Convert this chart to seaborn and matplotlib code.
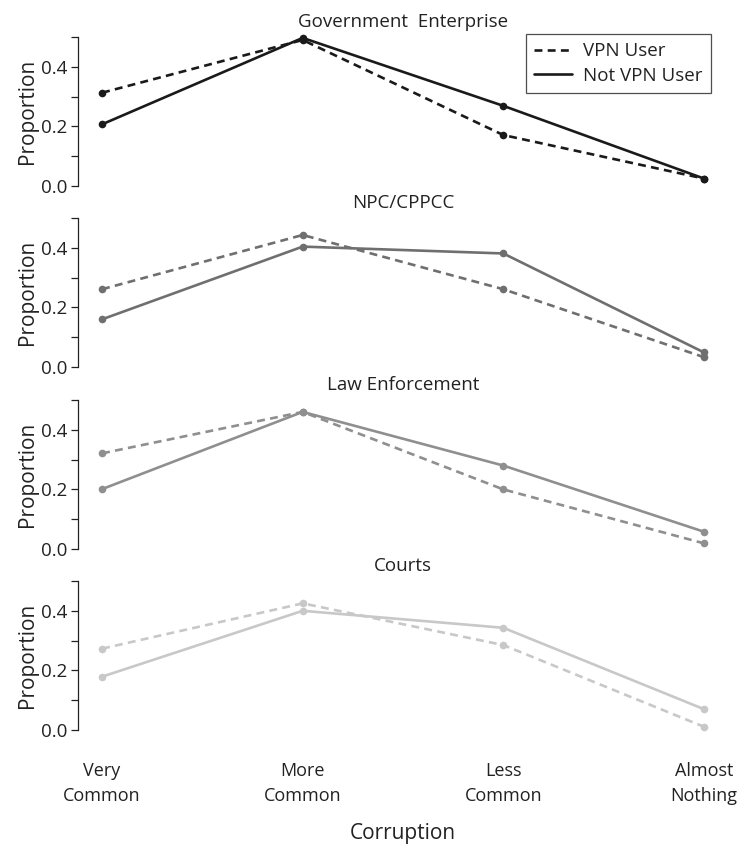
import matplotlib
matplotlib.use("Agg")
import matplotlib.pyplot as plt
import seaborn as sns
import pandas as pd
from matplotlib.lines import Line2D

sns.set_theme(style="white")
plt.rcParams['font.family'] = ['Open Sans', 'DejaVu Sans']

categories = ["Very\nCommon", "More\nCommon", "Less\nCommon", "Almost\nNothing"]
panels = ["Government  Enterprise", "NPC/CPPCC", "Law Enforcement", "Courts"]
groups = ["VPN User", "Not VPN User"]

gov_vpn = [0.313, 0.490, 0.171, 0.025]
gov_not = [0.207, 0.497, 0.269, 0.025]
npc_vpn = [0.261, 0.443, 0.261, 0.033]
npc_not = [0.160, 0.404, 0.381, 0.049]
law_vpn = [0.321, 0.460, 0.200, 0.019]
law_not = [0.201, 0.460, 0.280, 0.058]
court_vpn = [0.273, 0.425, 0.285, 0.011]
court_not = [0.179, 0.400, 0.343, 0.070]

panel_values = {
    panels[0]: (gov_vpn, gov_not),
    panels[1]: (npc_vpn, npc_not),
    panels[2]: (law_vpn, law_not),
    panels[3]: (court_vpn, court_not),
}
panel_colors = ["#1a1a1a", "#6f6f6f", "#8f8f8f", "#c8c8c8"]

fig = plt.figure(figsize=(7.39, 8.5), dpi=100)
W, H = 739.0, 850.0
left_px, right_px = 78.0, 728.0
zero_px = [186.0, 367.0, 549.0, 730.0]
ppu = 298.0
ylo, yhi = -0.02, 0.52

for i, name in enumerate(panels):
    vpn, notv = panel_values[name]
    df = pd.DataFrame({
        "Corruption": categories * 2,
        "Proportion": list(vpn) + list(notv),
        "User": [groups[0]] * 4 + [groups[1]] * 4,
    })
    top_px = zero_px[i] - yhi * ppu
    bot_px = zero_px[i] - ylo * ppu
    ax = fig.add_axes([left_px / W, 1 - bot_px / H, (right_px - left_px) / W, (bot_px - top_px) / H])
    sns.lineplot(data=df, x="Corruption", y="Proportion", style="User",
                 style_order=groups, dashes={groups[0]: (3, 2), groups[1]: ""},
                 markers={groups[0]: "o", groups[1]: "o"}, color=panel_colors[i],
                 linewidth=1.9, markersize=5.5, markeredgewidth=0, ax=ax, legend=False, sort=False)
    ax.set_xlim(-0.12, 3.12)
    ax.set_ylim(ylo, yhi)
    for s in ["top", "right", "bottom"]:
        ax.spines[s].set_visible(False)
    ax.spines["left"].set_bounds(0, 0.5)
    ax.spines["left"].set_color("#222222")
    ax.spines["left"].set_linewidth(0.9)
    ax.set_yticks([0, 0.1, 0.2, 0.3, 0.4, 0.5])
    ax.set_yticklabels(["0.0", "", "0.2", "", "0.4", ""])
    ax.tick_params(axis="y", left=True, length=5, width=0.9, color="#222222",
                   labelsize=13.5, labelcolor="#222222", pad=3)
    ax.set_ylabel("Proportion", fontsize=15, color="#222222", labelpad=2)
    ax.set_title(name, fontsize=13.5, color="#222222", pad=3)
    ax.set_xlabel("")
    if i < 3:
        ax.set_xticks([])
    else:
        ax.tick_params(axis="x", bottom=False, length=0, labelsize=13,
                       labelcolor="#222222", pad=19)
        for lab in ax.get_xticklabels():
            lab.set_linespacing(1.45)
    if i == 0:
        handles = [Line2D([], [], color="#1a1a1a", lw=1.9, dashes=(3, 2)),
                   Line2D([], [], color="#1a1a1a", lw=1.9)]
        leg = ax.legend(handles, groups, loc="upper right", bbox_to_anchor=(0.988, 1.04),
                        fontsize=13.5, frameon=True, fancybox=False, edgecolor="#222222",
                        handlelength=2.0, handletextpad=0.6, borderpad=0.45, labelspacing=0.35)
        leg.get_frame().set_linewidth(0.9)
        for t in leg.get_texts():
            t.set_color("#222222")

fig.text((left_px + right_px) / 2 / W, 1 - 833 / H, "Corruption", ha="center", va="center",
         fontsize=15, color="#222222")

fig.savefig("out.png", dpi=100)
